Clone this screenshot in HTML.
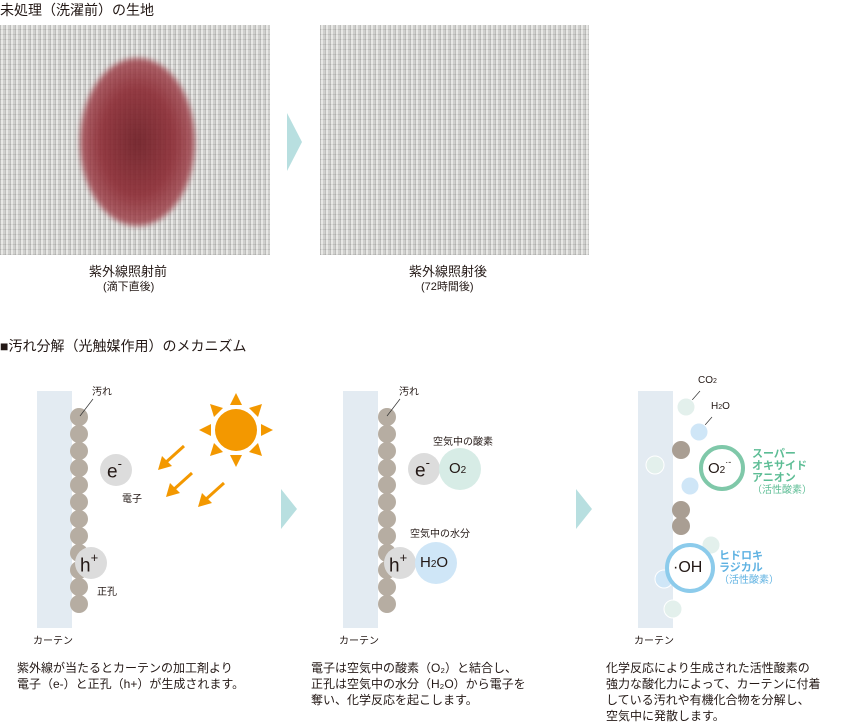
<!DOCTYPE html>
<html><head><meta charset="utf-8"><style>
body{margin:0;width:845px;height:721px;background:#fff;position:relative;overflow:hidden;font-family:"Liberation Sans","Noto Sans CJK JP",sans-serif;color:#231815}
.t{position:absolute;white-space:nowrap}
.photo{position:absolute;background-color:#dcdcd9;
background-image:repeating-linear-gradient(90deg,rgba(70,70,70,.22) 0 1px,rgba(255,255,255,.25) 1px 3px,rgba(90,90,90,.12) 3px 5px),repeating-linear-gradient(0deg,rgba(60,60,60,.1) 0 1px,rgba(255,255,255,.1) 1px 5px)}
sup{position:relative;top:-2px}
</style></head><body>
<div class="t" style="left:0;top:0;font-size:14px">未処理（洗濯前）の生地</div>
<div class="photo" style="left:0;top:25px;width:270px;height:230px"></div>
<div style="position:absolute;left:80px;top:58px;width:115px;height:168px;border-radius:50%;background:radial-gradient(ellipse,#6e1a22 0%,#8c2a33 45%,rgba(160,60,70,.8) 75%,rgba(200,150,150,0) 100%);filter:blur(3px);opacity:.9"></div>
<div class="photo" style="left:320px;top:25px;width:269px;height:230px"></div>
<svg style="position:absolute;left:0;top:0" width="845" height="721">
<polygon points="287,113 302,142 287,171" fill="#b8dfe0"/>
<polygon points="281,489 297,509 281,529" fill="#b8dfe0"/>
<polygon points="576,489 592,509 576,529" fill="#b8dfe0"/>
<rect x="37" y="391" width="35" height="237" fill="#e3ebf2"/>
<rect x="343" y="391" width="35" height="237" fill="#e3ebf2"/>
<rect x="638" y="391" width="35" height="237" fill="#e3ebf2"/>
<g fill="#b6ada2">
<circle cx="79" cy="417" r="9"/><circle cx="79" cy="434" r="9"/><circle cx="79" cy="451" r="9"/><circle cx="79" cy="468" r="9"/><circle cx="79" cy="485" r="9"/><circle cx="79" cy="502" r="9"/><circle cx="79" cy="519" r="9"/><circle cx="79" cy="536" r="9"/><circle cx="79" cy="553" r="9"/><circle cx="79" cy="570" r="9"/><circle cx="79" cy="587" r="9"/><circle cx="79" cy="604" r="9"/>
<circle cx="387" cy="417" r="9"/><circle cx="387" cy="434" r="9"/><circle cx="387" cy="451" r="9"/><circle cx="387" cy="468" r="9"/><circle cx="387" cy="485" r="9"/><circle cx="387" cy="502" r="9"/><circle cx="387" cy="519" r="9"/><circle cx="387" cy="536" r="9"/><circle cx="387" cy="553" r="9"/><circle cx="387" cy="570" r="9"/><circle cx="387" cy="587" r="9"/><circle cx="387" cy="604" r="9"/>
</g>
<g fill="#a99e93"><circle cx="681" cy="450" r="9"/><circle cx="681" cy="510" r="9"/><circle cx="681" cy="526" r="9"/></g>
<g stroke="#333" stroke-width="0.7"><line x1="80" y1="416" x2="93" y2="399"/><line x1="387" y1="416" x2="400" y2="399"/><line x1="686" y1="407" x2="700" y2="391"/><line x1="699" y1="432" x2="712" y2="417"/></g>
<circle cx="116" cy="470" r="16" fill="#dcdcdc"/><circle cx="91" cy="563" r="16" fill="#dcdcdc"/>
<circle cx="424" cy="469" r="16" fill="#dcdcdc"/><circle cx="460" cy="469" r="21" fill="#d7ece6"/>
<circle cx="400" cy="563" r="16" fill="#dcdcdc"/><circle cx="436" cy="563" r="21" fill="#cfe6f7"/>
<g stroke="#fff" stroke-width="1">
<circle cx="686" cy="407" r="9" fill="#e3f0ec"/><circle cx="699" cy="432" r="9" fill="#cfe6f7"/><circle cx="655" cy="465" r="9" fill="#e3f0ec"/><circle cx="690" cy="486" r="9" fill="#cfe6f7"/><circle cx="711" cy="545" r="9" fill="#e3f0ec"/><circle cx="664" cy="579" r="9" fill="#cfe6f7"/><circle cx="673" cy="609" r="9" fill="#e3f0ec"/></g>
<circle cx="722" cy="468" r="21" fill="#fff" stroke="#7fc8a9" stroke-width="4"/>
<circle cx="690" cy="568" r="23" fill="#fff" stroke="#8ccbeb" stroke-width="4"/>
<g fill="#f39800">
<circle cx="236" cy="430" r="21"/>
<polygon points="236,393 230,405 242,405"/><polygon points="236,467 230,455 242,455"/><polygon points="199,430 211,424 211,436"/><polygon points="273,430 261,424 261,436"/>
<polygon points="210,404 214,417 223,408"/><polygon points="262,404 258,417 249,408"/><polygon points="210,456 214,443 223,452"/><polygon points="262,456 258,443 249,452"/>
</g>
<g stroke="#f39800" stroke-width="3"><line x1="184" y1="446" x2="164" y2="464"/><line x1="192" y1="473" x2="172" y2="491"/><line x1="224" y1="483" x2="204" y2="501"/></g>
<g fill="#f39800"><polygon points="158,470 162,456 172,466"/><polygon points="166,497 170,483 180,493"/><polygon points="198,507 202,493 212,503"/></g>
</svg>
<div class="t" style="left:89px;top:261px;font-size:13px">紫外線照射前</div>
<div class="t" style="left:103px;top:278px;font-size:11px">(滴下直後)</div>
<div class="t" style="left:409px;top:261px;font-size:13px">紫外線照射後</div>
<div class="t" style="left:421px;top:278px;font-size:11px">(72時間後)</div>
<div class="t" style="left:0;top:336px;font-size:14px">■汚れ分解（光触媒作用）のメカニズム</div>
<div class="t" style="left:92px;top:383px;font-size:10px">汚れ</div>
<div class="t" style="left:399px;top:383px;font-size:10px">汚れ</div>
<div class="t" style="left:107px;top:458px;font-size:19px">e<sup style="font-size:13px">-</sup></div>
<div class="t" style="left:122px;top:490px;font-size:10px">電子</div>
<div class="t" style="left:80px;top:552px;font-size:19px">h<sup style="font-size:13px">+</sup></div>
<div class="t" style="left:97px;top:583px;font-size:10px">正孔</div>
<div class="t" style="left:33px;top:632px;font-size:10px">カーテン</div>
<div class="t" style="left:339px;top:632px;font-size:10px">カーテン</div>
<div class="t" style="left:634px;top:632px;font-size:10px">カーテン</div>
<div class="t" style="left:433px;top:433px;font-size:10px">空気中の酸素</div>
<div class="t" style="left:415px;top:457px;font-size:19px">e<sup style="font-size:13px">-</sup></div>
<div class="t" style="left:449px;top:460px;font-size:15px">O<span style="font-size:10px">2</span></div>
<div class="t" style="left:410px;top:525px;font-size:10px">空気中の水分</div>
<div class="t" style="left:389px;top:552px;font-size:19px">h<sup style="font-size:13px">+</sup></div>
<div class="t" style="left:420px;top:554px;font-size:15px">H<span style="font-size:10px">2</span>O</div>
<div class="t" style="left:698px;top:375px;font-size:10px">CO<span style="font-size:7px">2</span></div>
<div class="t" style="left:711px;top:401px;font-size:10px">H<span style="font-size:7px">2</span>O</div>
<div class="t" style="left:708px;top:459px;font-size:15px">O<span style="font-size:10px">2</span><sup style="font-size:9px">·-</sup></div>
<div class="t" style="left:673px;top:559px;font-size:16px">·OH</div>
<div class="t" style="left:752px;top:448px;font-size:11px;line-height:12px;color:#5dbd95;font-weight:bold">スーパー<br>オキサイド<br>アニオン<br><span style="font-weight:normal;font-size:10px">（活性酸素）</span></div>
<div class="t" style="left:719px;top:550px;font-size:11px;line-height:12px;color:#5fb2e2;font-weight:bold">ヒドロキ<br>ラジカル<br><span style="font-weight:normal;font-size:10px">（活性酸素）</span></div>
<div class="t" style="left:17px;top:660px;font-size:12px;line-height:16px">紫外線が当たるとカーテンの加工剤より<br>電子（e-）と正孔（h+）が生成されます。</div>
<div class="t" style="left:311px;top:660px;font-size:12px;line-height:16px">電子は空気中の酸素（O₂）と結合し、<br>正孔は空気中の水分（H₂O）から電子を<br>奪い、化学反応を起こします。</div>
<div class="t" style="left:606px;top:660px;font-size:12px;line-height:16px">化学反応により生成された活性酸素の<br>強力な酸化力によって、カーテンに付着<br>している汚れや有機化合物を分解し、<br>空気中に発散します。</div>
</body></html>
